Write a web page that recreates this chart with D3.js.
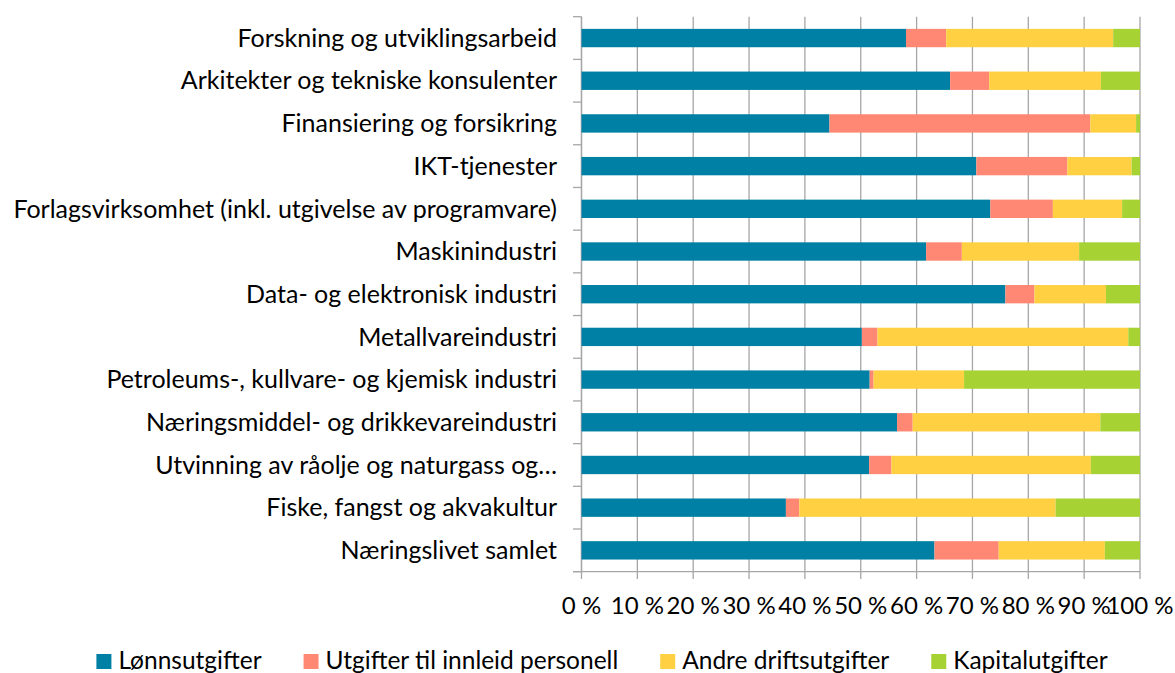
<!DOCTYPE html>
<html>
<head>
<meta charset="utf-8">
<title>Utgifter etter næring</title>
<script src="https://cdn.jsdelivr.net/npm/d3@7"></script>
<style>
body, html {
  margin: 0;
  background: #fff;
}
svg {
  display: block;
  font-family: Lato, "Open Sans", sans-serif;
}
.grid line {
  stroke: #a6a6a6;
  stroke-width: 1.3px;
}
.cat, .tick-lbl, .leg text {
  fill: #000;
}
</style>
</head>
<body>
<script>
// categories, top to bottom
var categories = [
  "Forskning og utviklingsarbeid",
  "Arkitekter og tekniske konsulenter",
  "Finansiering og forsikring",
  "IKT-tjenester",
  "Forlagsvirksomhet (inkl. utgivelse av programvare)",
  "Maskinindustri",
  "Data- og elektronisk industri",
  "Metallvareindustri",
  "Petroleums-, kullvare- og kjemisk industri",
  "Næringsmiddel- og drikkevareindustri",
  "Utvinning av råolje og naturgass og…",
  "Fiske, fangst og akvakultur",
  "Næringslivet samlet"
];

var seriesNames = ["Lønnsutgifter", "Utgifter til innleid personell", "Andre driftsutgifter", "Kapitalutgifter"];
var seriesColors = ["#0080a4", "#ff8875", "#fed042", "#a6d234"];

// shares in percent
var lonn     = [58.1, 66.0, 44.4, 70.7, 73.2, 61.7, 75.9, 50.2, 51.6, 56.5, 51.5, 36.6, 63.2];
var innleid  = [ 7.2,  7.0, 46.7, 16.3, 11.2,  6.4,  5.2,  2.8,  0.7,  2.8,  4.0,  2.4, 11.5];
var andre    = [29.9, 20.0,  8.2, 11.5, 12.4, 21.0, 12.8, 44.9, 16.2, 33.6, 35.7, 45.9, 19.0];
var kapital  = [ 4.8,  7.0,  0.7,  1.5,  3.2, 10.9,  6.1,  2.1, 31.5,  7.1,  8.8, 15.1,  6.3];

var tickValues = [0, 10, 20, 30, 40, 50, 60, 70, 80, 90, 100];

var W = 1175, H = 673;
var svg = d3.select("body").append("svg").attr("width", W).attr("height", H);

var rows = categories.map(function(c, i) {
  return {cat: c, "0": lonn[i], "1": innleid[i], "2": andre[i], "3": kapital[i]};
});
var stack = d3.stack().keys(["0", "1", "2", "3"]);
var layers = stack(rows);

var x = d3.scaleLinear().domain([0, 100]).range([581.5, 1140]);
var y = d3.scaleBand().domain(categories).range([16.7, 571.7]).paddingInner(0.57).paddingOuter(0.285);
var yb = d3.scaleBand().domain(categories).range([16.7, 571.7]);

// vertical gridlines
svg.append("g").attr("class", "grid")
  .selectAll("line").data(tickValues).enter().append("line")
  .attr("x1", function(d) { return x(d); }).attr("x2", function(d) { return x(d); })
  .attr("y1", 16.7).attr("y2", 579);

// y axis with category ticks at band edges
svg.append("line")
  .attr("x1", x(0)).attr("x2", x(0)).attr("y1", 16.7).attr("y2", 571.7)
  .attr("stroke", "#a6a6a6").attr("stroke-width", 1.3);
svg.append("g").selectAll("line")
  .data(d3.range(categories.length + 1)).enter().append("line")
  .attr("x1", 573).attr("x2", x(0))
  .attr("y1", function(i) { return 16.7 + i * yb.step(); })
  .attr("y2", function(i) { return 16.7 + i * yb.step(); })
  .attr("stroke", "#a6a6a6").attr("stroke-width", 1.3);
// x axis line
svg.append("line")
  .attr("x1", 573).attr("x2", x(100)).attr("y1", 571.7).attr("y2", 571.7)
  .attr("stroke", "#a6a6a6").attr("stroke-width", 1.3);

// bars
svg.append("g").selectAll("g").data(layers).enter().append("g")
  .attr("fill", function(d, i) { return seriesColors[i]; })
  .selectAll("rect").data(function(d) { return d; }).enter().append("rect")
  .attr("x", function(d) { return x(d[0]); })
  .attr("width", function(d) { return x(d[1]) - x(d[0]); })
  .attr("y", function(d) { return y(d.data.cat); })
  .attr("height", y.bandwidth());

// category labels
svg.append("g").selectAll("text").data(categories).enter().append("text")
  .attr("class", "cat")
  .attr("x", 557)
  .attr("y", function(d) { return yb(d) + yb.bandwidth() / 2; })
  .attr("dy", "0.35em")
  .attr("text-anchor", "end")
  .style("font-size", "25px")
  .text(function(d) { return d; });

// x tick labels
svg.append("g").selectAll("text").data(tickValues).enter().append("text")
  .attr("class", "tick-lbl")
  .attr("x", function(d) { return x(d); })
  .attr("y", 614)
  .attr("text-anchor", "middle")
  .style("font-size", "24px")
  .text(function(d) { return d + " %"; });

// legend
var leg = svg.append("g").attr("class", "leg");
var lx = 0;
seriesNames.forEach(function(name, i) {
  var g = leg.append("g").attr("transform", "translate(" + lx + ",0)");
  g.append("rect").attr("x", 0).attr("y", 654).attr("width", 15).attr("height", 15)
    .attr("fill", seriesColors[i]);
  var t = g.append("text").attr("x", 22).attr("y", 669)
    .style("font-size", "24.5px").text(name);
  lx += 22 + t.node().getComputedTextLength() + 42;
});
var legW = lx - 42;
leg.attr("transform", "translate(" + (602 - legW / 2) + ",0)");
</script>
</body>
</html>
